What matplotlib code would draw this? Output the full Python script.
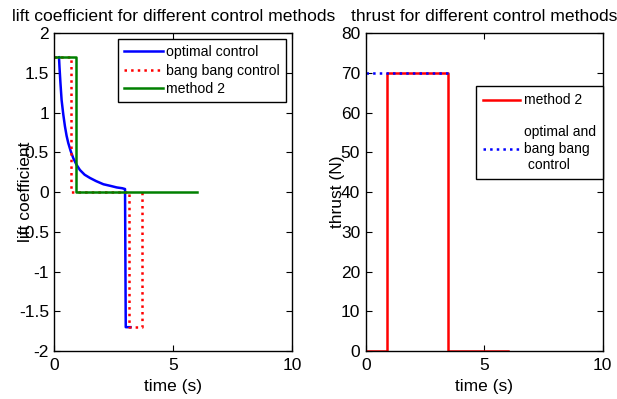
import numpy as np
import matplotlib
matplotlib.use("Agg")
import matplotlib.pyplot as plt

plt.rcParams['font.family'] = ['Liberation Sans', 'DejaVu Sans']

# -----------------------------
# DATA
# -----------------------------
# optimal control lift coefficient
t_opt = [0.19, 0.21, 0.25, 0.30, 0.37, 0.44, 0.51, 0.58, 0.68, 0.79, 0.92, 1.07,
         1.27, 1.49, 1.75, 2.06, 2.35, 2.62, 2.85, 2.97, 3.0, 3.2]
cl_opt = [1.70, 1.58, 1.38, 1.16, 0.98, 0.83, 0.71, 0.62, 0.52, 0.43, 0.35, 0.28,
          0.22, 0.18, 0.14, 0.10, 0.08, 0.06, 0.05, 0.04, -1.7, -1.7]

# bang bang control lift coefficient
t_bang = [0.0, 0.69, 0.69, 3.14, 3.14, 3.70, 3.70]
cl_bang = [1.7, 1.7, 0.0, 0.0, -1.7, -1.7, 0.0]

# method 2 lift coefficient
t_m2 = [0.0, 0.92, 0.92, 6.0]
cl_m2 = [1.7, 1.7, 0.0, 0.0]

# thrust
t_thr_m2 = [0.0, 0.91, 0.91, 3.46, 3.46, 6.0]
thr_m2 = [0, 0, 70, 70, 0, 0]
t_thr_opt = [0.0, 3.62]
thr_opt = [70, 70]

# -----------------------------
# FIGURE
# -----------------------------
fig = plt.figure(figsize=(6.17, 3.99), dpi=100)
ax1 = fig.add_axes([0.0883, 0.1203, 0.385, 0.796])
ax2 = fig.add_axes([0.5927, 0.1203, 0.384, 0.796])

lw = 1.8

ax1.plot(t_opt, cl_opt, color='blue', lw=lw, label='optimal control')
ax1.plot(t_bang, cl_bang, color='red', lw=lw, ls=':', label='bang bang control')
ax1.plot(t_m2, cl_m2, color='green', lw=lw, label='method 2')
ax1.set_xlim(0, 10)
ax1.set_ylim(-2, 2)
ax1.set_xticks([0, 5, 10])
ax1.set_yticks(np.arange(-2, 2.01, 0.5))
ax1.set_yticklabels(['-2', '-1.5', '-1', '-0.5', '0', '0.5', '1', '1.5', '2'])
ax1.set_title('lift coefficient for different control methods', fontsize=12.6, pad=9)
ax1.set_xlabel('time (s)', fontsize=12.5, labelpad=4)
ax1.set_ylabel('lift coefficient', fontsize=12.5)
ax1.yaxis.set_label_coords(-0.09, 0.5)
ax1.legend(loc='upper right', fontsize=10.2, frameon=True, fancybox=False,
           edgecolor='black', framealpha=1, handlelength=2.7, handletextpad=0.25,
           borderpad=0.45, labelspacing=0.3, borderaxespad=0.4)

ax2.plot(t_thr_m2, thr_m2, color='red', lw=lw, label='method 2')
ax2.plot(t_thr_opt, thr_opt, color='blue', lw=lw, ls=':',
         label='optimal and\nbang bang\n control')
ax2.set_xlim(0, 10)
ax2.set_ylim(0, 80)
ax2.set_xticks([0, 5, 10])
ax2.set_yticks(np.arange(0, 81, 10))
ax2.set_title('thrust for different control methods', fontsize=12.6, pad=9)
ax2.set_xlabel('time (s)', fontsize=12.5, labelpad=4)
ax2.set_ylabel('thrust (N)', fontsize=12.5)
ax2.yaxis.set_label_coords(-0.087, 0.5)
ax2.legend(loc='upper right', bbox_to_anchor=(1.0, 0.833), fontsize=10, frameon=True,
           fancybox=False, edgecolor='black', framealpha=1, handlelength=2.7,
           handletextpad=0.25, borderpad=0.5, labelspacing=1.3, borderaxespad=0)

for ax in (ax1, ax2):
    ax.tick_params(direction='in', top=True, right=True, labelsize=12.5, length=4)
    ax.tick_params(axis='x', pad=5)
    ax.tick_params(axis='y', pad=4)
    for s in ax.spines.values():
        s.set_linewidth(1.0)

fig.savefig('out.png', dpi=100)
